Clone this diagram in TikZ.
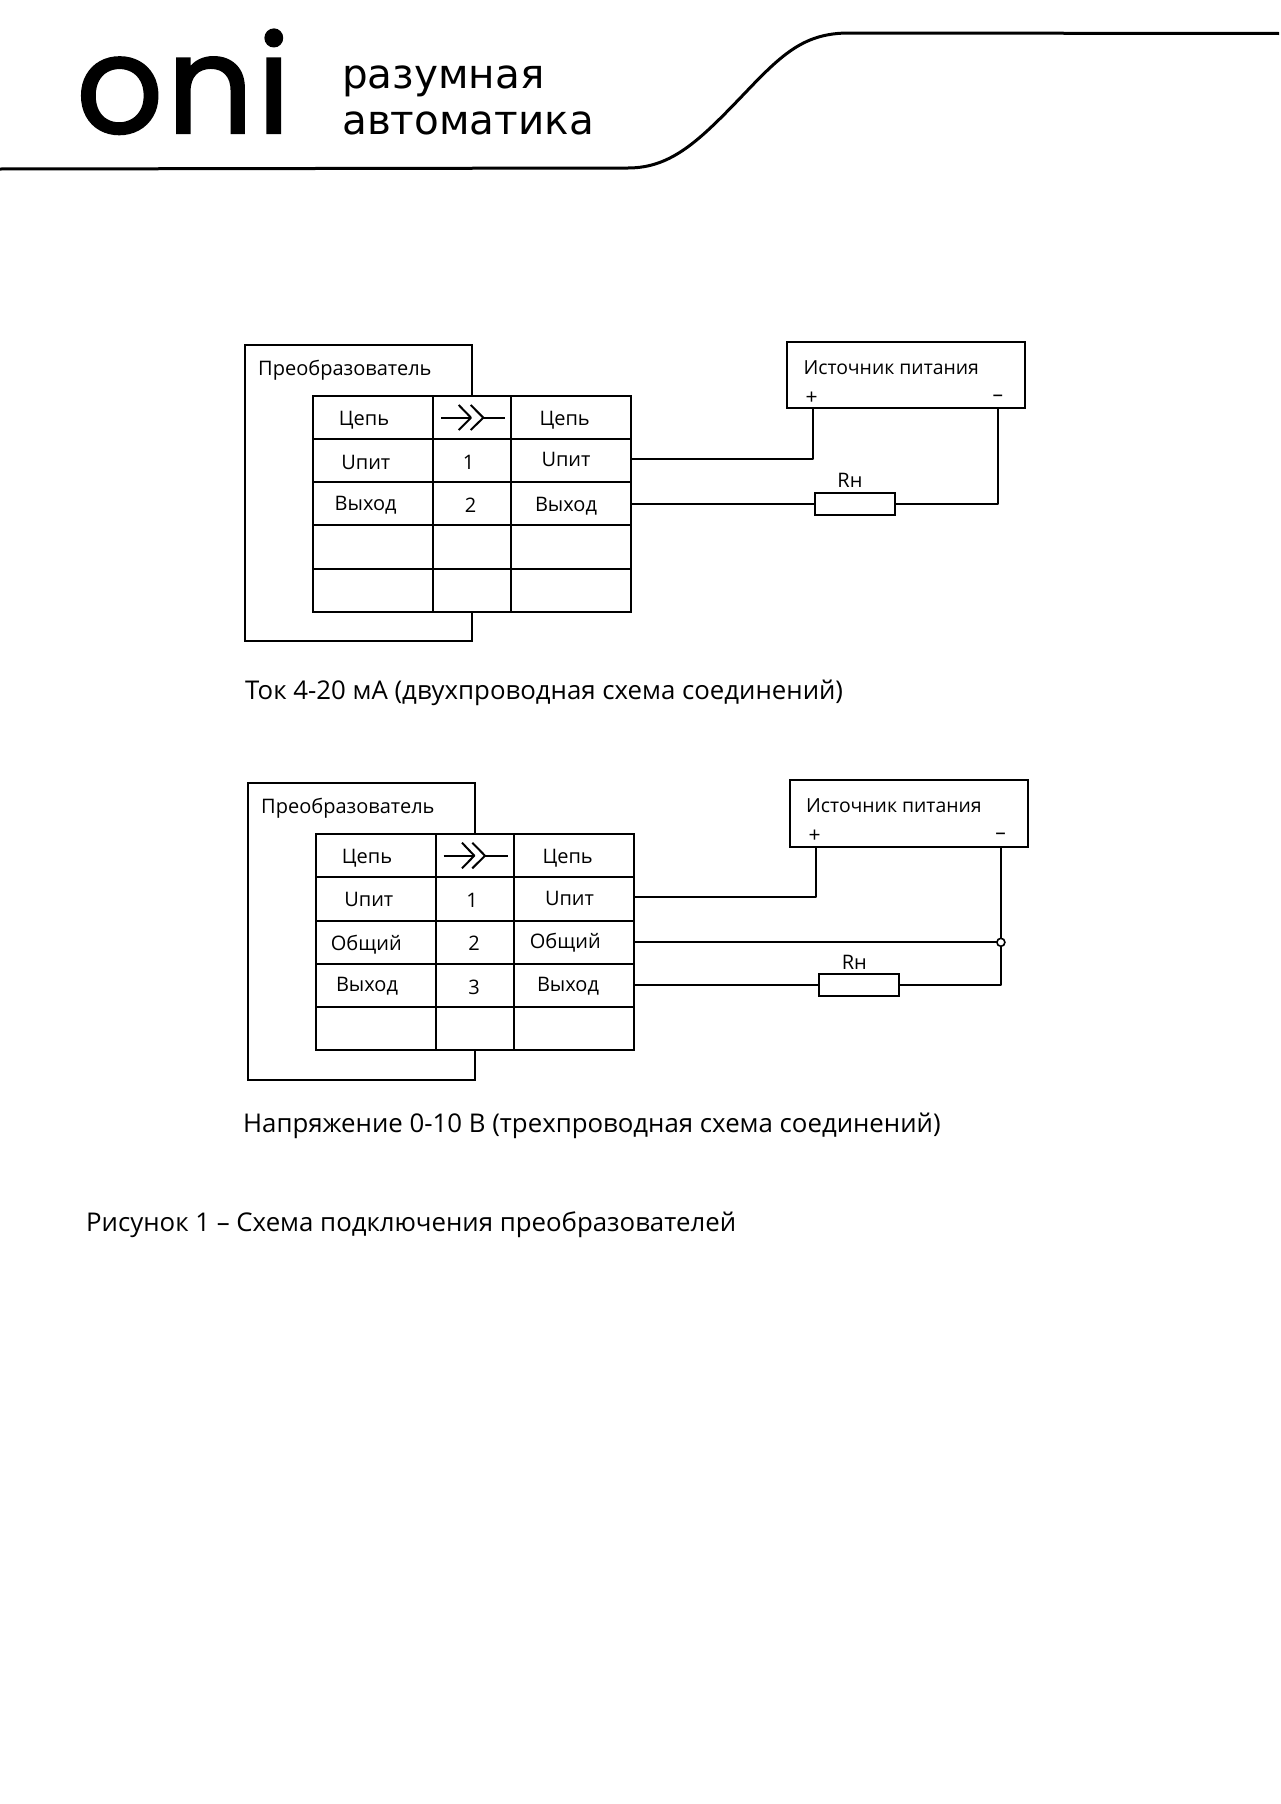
\documentclass[tikz,border=0pt]{standalone}
\usepackage{fontspec}
\setmainfont{Open Sans}
\newfontfamily\logoFont[FakeBold=1.6,LetterSpace=2.5]{Poppins}
\newfontfamily\sloganFont{DejaVu Sans}

\begin{document}
\begin{tikzpicture}[%%
  x=1pt,y=-1pt,%%
  lineStyle/.style={-,line width=2pt,line join=round},%%
  headStyle/.style={-,line width=3pt},%%
  cellStyle/.style={draw,line width=2pt,fill=white,inner sep=0pt,outer sep=0pt},%%
  boxStyle/.style={draw,line width=2pt,fill=white,inner sep=0pt,outer sep=0pt},%%
  tabStyle/.style={inner sep=0pt,anchor=base,font=\fontsize{20}{24}\selectfont},%%
  leftStyle/.style={inner sep=0pt,anchor=base west,font=\fontsize{20}{24}\selectfont},%%
  powerStyle/.style={inner sep=0pt,anchor=base west,font=\fontsize{19.4}{24}\selectfont},%%
  signStyle/.style={inner sep=0pt,font=\fontsize{21}{24}\selectfont},%%
  captionStyle/.style={inner sep=0pt,anchor=base west,font=\fontsize{25.8}{30}\selectfont},%%
  sloganStyle/.style={inner sep=0pt,anchor=base west,font=\sloganFont\fontsize{40.5}{46}\selectfont}%%
]
\useasboundingbox (0,0) rectangle (1280,1804);
%%
%%
%% Header.
\node (logoText) at (76,133) [inner sep=0pt,anchor=base west,font=\logoFont\fontsize{136}{150}\selectfont] {oni};
\node (sloganTop) at (342,88.5) [sloganStyle] {разумная};
\node (sloganBottom) at (342,134.5) [sloganStyle] {автоматика};
\draw[headStyle] (0,169) -- (628,168) .. controls (672,168) and (700,140) .. (745,93)
  .. controls (783,53) and (805,33) .. (849,33) -- (1279,33.5);
%%
%%
%% Two-wire scheme.
\node (convA) at (358.2,493) [boxStyle,minimum width=226.6pt,minimum height=296.6pt] {};
\node (powerA) at (906,375) [boxStyle,minimum width=238.4pt,minimum height=66.6pt] {};
%% Cells of the table.
\foreach \col/\xc/\cw in {1/372.65/119.7,2/471.85/78.7,3/571.2/120}
  \foreach \row/\yc in {1/417.8,2/460.87,3/503.94,4/547.01,5/590.08}
    \node (cellA\row\col) at (\xc,\yc) [cellStyle,minimum width=\cw pt,minimum height=43.07pt] {};
%% Texts.
\foreach \name/\xp/\yp/\txt in {%%
  circuitAL/364/425/Цепь,circuitAR/564.7/425/Цепь,%%
  supplyAL/365.8/469/Uпит,supplyAR/566/466.7/Uпит,%%
  outAL/365.7/510.7/Выход,outAR/566/511.7/Выход,%%
  numAa/468.7/469.3/1,numAb/470.7/512.3/2,%%
  loadA/850/487.7/Rн}
  \node (\name) at (\xp,\yp) [tabStyle] {\txt};
\node (convTextA) at (258,375) [leftStyle] {Преобразователь};
\node (powerTextA) at (803.3,374.3) [powerStyle] {Источник питания};
\node (plusTextA) at (811.5,398) [signStyle] {+};
\node (minusTextA) at (997.8,398) [signStyle] {–};
\node (captionA) at (245,699) [captionStyle] {Ток 4-20 мА (двухпроводная схема соединений)};
%% Connector sign.
\coordinate (signAa) at (441,417.7);
\coordinate (signAb) at (471,417.7);
\coordinate (signAc) at (483.3,417.7);
\coordinate (signAd) at (505,417.7);
\draw[lineStyle] (signAa) -- (signAb);
\draw[lineStyle] (signAc) -- (signAd);
\draw[lineStyle] (458.7,405) -- (signAb) -- (458.7,430);
\draw[lineStyle] (470.7,405) -- (signAc) -- (470.7,430);
%% Wires.
\node (loadBoxA) at (854.7,503.7) [boxStyle,minimum width=80.3pt,minimum height=21.7pt] {};
\coordinate (plusA) at (812.8,408.3);
\coordinate (minusA) at (998.2,408.3);
\coordinate (pinAa) at (631.2,459);
\coordinate (pinAb) at (631.2,503.7);
\draw[lineStyle] (plusA) |- (pinAa);
\draw[lineStyle] (pinAb) -- (loadBoxA.west);
\draw[lineStyle] (loadBoxA.east) -| (minusA);
%%
%%
%% Three-wire scheme.
\node (convB) at (361.4,931.5) [boxStyle,minimum width=227pt,minimum height=296.4pt] {};
\node (powerB) at (908.8,813.2) [boxStyle,minimum width=238pt,minimum height=67pt] {};
%% Cells of the table.
\foreach \col/\xc/\cw in {1/375.6/120,2/474.8/78.4,3/574.15/120.3}
  \foreach \row/\yc in {1/855.87,2/899.01,3/942.15,4/985.29,5/1028.43}
    \node (cellB\row\col) at (\xc,\yc) [cellStyle,minimum width=\cw pt,minimum height=43.14pt] {};
%% Texts.
\foreach \name/\xp/\yp/\txt in {%%
  circuitBL/367/863.3/Цепь,circuitBR/567.7/863.3/Цепь,%%
  supplyBL/368.8/906.7/Uпит,supplyBR/569.5/905/Uпит,%%
  commonBL/366.3/950/Общий,commonBR/565.3/948/Общий,%%
  outBL/367/991.7/Выход,outBR/568/991.3/Выход,%%
  numBa/472/907.3/1,numBb/474/950.7/2,numBc/474/994.3/3,%%
  loadB/854.3/969/Rн}
  \node (\name) at (\xp,\yp) [tabStyle] {\txt};
\node (convTextB) at (261,813.3) [leftStyle] {Преобразователь};
\node (powerTextB) at (806,812.3) [powerStyle] {Источник питания};
\node (plusTextB) at (814.5,836) [signStyle] {+};
\node (minusTextB) at (1000.5,836) [signStyle] {–};
\node (captionB) at (243,1132.7) [captionStyle] {Напряжение 0-10 В (трехпроводная схема соединений)};
%% Connector sign.
\coordinate (signBa) at (443.7,855.7);
\coordinate (signBb) at (474.3,855.7);
\coordinate (signBc) at (485,855.7);
\coordinate (signBd) at (507.7,855.7);
\draw[lineStyle] (signBa) -- (signBb);
\draw[lineStyle] (signBc) -- (signBd);
\draw[lineStyle] (462,842.7) -- (signBb) -- (462,868.3);
\draw[lineStyle] (472.3,842.7) -- (signBc) -- (472.3,868.3);
%% Wires.
\node (loadBoxB) at (859,984.7) [boxStyle,minimum width=80.4pt,minimum height=21.7pt] {};
\node (joint) at (1000.9,942.3) [circle,draw,line width=1.6pt,fill=white,inner sep=0pt,outer sep=0pt,minimum size=8pt] {};
\coordinate (plusB) at (816,846.7);
\coordinate (minusB) at (1000.9,846.7);
\coordinate (pinBa) at (634.3,897);
\coordinate (pinBb) at (634.3,942.3);
\coordinate (pinBc) at (634.3,984.7);
\draw[lineStyle] (plusB) |- (pinBa);
\draw[lineStyle] (pinBb) -- (joint.west);
\draw[lineStyle] (minusB) -- (joint.north);
\draw[lineStyle] (pinBc) -- (loadBoxB.west);
\draw[lineStyle] (loadBoxB.east) -| (joint.south);
%%
%%
\node (figCaption) at (86,1231) [captionStyle] {Рисунок 1 – Схема подключения преобразователей};
\end{tikzpicture}
\end{document}
